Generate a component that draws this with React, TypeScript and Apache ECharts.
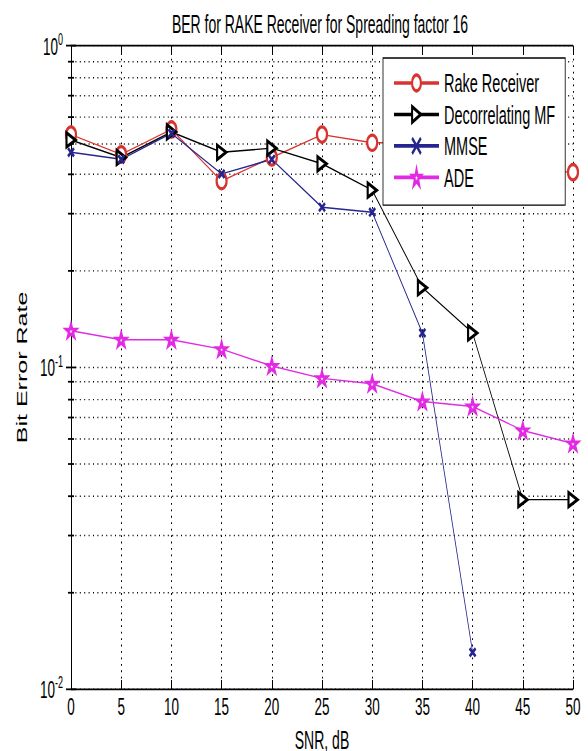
import React, { useEffect, useRef } from 'react';
import * as echarts from 'echarts';

const snr = [0, 5, 10, 15, 20, 25, 30, 35, 40, 45, 50];
const rakeBer = [0.53, 0.46, 0.55, 0.38, 0.45, 0.53, 0.5, 0.5, 0.45, 0.41, 0.405];
const decorrBer = [0.51, 0.45, 0.54, 0.467, 0.481, 0.43, 0.356, 0.177, 0.128, 0.0388, 0.0388];
const mmseBer = [0.467, 0.444, 0.535, 0.4, 0.444, 0.315, 0.304, 0.128, 0.013, null, null];
const adeBer = [0.13, 0.122, 0.122, 0.114, 0.101, 0.0925, 0.089, 0.0784, 0.0756, 0.0637, 0.058];

// The reference figure is stretched vertically; the chart is drawn at this
// height and scaled up to the 751px page height.
const PAGE_W = 588;
const PAGE_H = 751;
const CHART_H = 420;
const STRETCH = PAGE_H / CHART_H;

const FONT = "'Liberation Sans', Arial, Helvetica, sans-serif";
const STAR = 'emptyPath://M50,0 L61.8,36.3 L100,36.3 L69.1,58.8 L80.9,95.1 L50,72.6 L19.1,95.1 L30.9,58.8 L0,36.3 L38.2,36.3 Z';
const XMARK = 'emptyPath://M0,0 L10,10 M10,0 L0,10';

const pair = (ys: (number | null)[]) => snr.map((x, i) => [x, ys[i]]).filter((p) => p[1] !== null);

export default function App() {
  const ref = useRef<HTMLDivElement>(null);
  useEffect(() => {
    const chart = echarts.init(ref.current!, undefined, { renderer: 'svg' });
    const hDots = { color: '#000', width: 0.8, type: [1, 3.4] as any };
    const vDots = { color: '#000', width: 1, type: [1, 2.6] as any };
    const axisLine = { lineStyle: { color: '#000', width: 1 } };
    const tick = { inside: true, length: 5, lineStyle: { color: '#000', width: 1 } };
    const minorTick = { show: true, splitNumber: 9, length: 3, lineStyle: { color: '#000', width: 1 } };
    const LW = 0.8;
    chart.setOption({
      animation: false,
      backgroundColor: '#fff',
      title: {
        text: 'BER for RAKE Receiver for Spreading factor 16',
        left: 315,
        textAlign: 'center',
        top: 1.5,
        textStyle: { fontFamily: FONT, fontSize: 14, fontWeight: 'normal', color: '#000' },
      },
      grid: { left: 71, right: 15, top: 25.7, bottom: 34.7, show: false, containLabel: false, outerBoundsMode: 'none' },
      legend: {
        orient: 'vertical',
        left: 383,
        top: 32.4,
        padding: [6.5, 10, 8, 10],
        itemGap: 2.6,
        itemWidth: 45,
        itemHeight: 11,
        backgroundColor: '#fff',
        borderColor: '#000',
        borderWidth: 0.8,
        borderRadius: 0,
        textStyle: { fontFamily: FONT, fontSize: 14.5, lineHeight: 14, color: '#000' },
        data: ['Rake Receiver', 'Decorrelating MF', 'MMSE', 'ADE'],
      },
      xAxis: [
        {
          type: 'value',
          min: 0,
          max: 50,
          interval: 5,
          position: 'bottom',
          name: 'SNR, dB',
          nameLocation: 'middle',
          nameGap: 14.5,
          nameTextStyle: { fontFamily: FONT, fontSize: 14, lineHeight: 14, color: '#000' },
          axisLine,
          axisTick: tick,
          axisLabel: { fontFamily: FONT, fontSize: 13.5, color: '#000', margin: 3 },
          splitLine: { show: true, lineStyle: vDots },
        },
        {
          type: 'value',
          min: 0,
          max: 50,
          interval: 5,
          position: 'top',
          axisLine,
          axisTick: tick,
          axisLabel: { show: false },
          splitLine: { show: false },
        },
      ],
      yAxis: [
        {
          type: 'log',
          logBase: 10,
          min: 0.01,
          max: 1,
          position: 'left',
          name: 'Bit Error Rate',
          nameLocation: 'middle',
          nameGap: 42,
          nameTextStyle: { fontFamily: FONT, fontSize: 14, color: '#000' },
          axisLine,
          axisTick: tick,
          minorTick,
          minorSplitLine: { show: true, lineStyle: hDots },
          axisLabel: {
            margin: 8,
            formatter: (v: number) => `{b|10}{s|${Math.round(Math.log10(v))}}`,
            rich: {
              b: { fontFamily: FONT, fontSize: 13.5, color: '#000' },
              s: { fontFamily: FONT, fontSize: 9, color: '#000', padding: [0, 0, 7, 0] },
            },
          },
          splitLine: { show: true, lineStyle: hDots },
        },
        {
          type: 'log',
          logBase: 10,
          min: 0.01,
          max: 1,
          position: 'right',
          axisLine,
          axisTick: tick,
          minorTick,
          axisLabel: { show: false },
          splitLine: { show: false },
        },
      ],
      series: [
        {
          name: 'Rake Receiver',
          type: 'line',
          data: pair(rakeBer),
          color: '#d8342f',
          lineStyle: { width: LW, color: '#d8342f' },
          symbol: 'emptyCircle',
          symbolSize: [10, 8.5],
          itemStyle: { borderWidth: LW },
          z: 3,
        },
        {
          name: 'Decorrelating MF',
          type: 'line',
          data: pair(decorrBer),
          color: '#000',
          lineStyle: { width: LW, color: '#000' },
          symbol: 'emptyTriangle',
          symbolRotate: -90,
          symbolSize: [8, 9],
          itemStyle: { borderWidth: LW },
          z: 3,
        },
        {
          name: 'MMSE',
          type: 'line',
          data: pair(mmseBer),
          color: '#25258f',
          lineStyle: { width: LW, color: '#25258f' },
          symbol: XMARK,
          symbolSize: [6, 4.5],
          itemStyle: { borderWidth: LW },
          z: 3,
        },
        {
          name: 'ADE',
          type: 'line',
          data: pair(adeBer),
          color: '#e22ae2',
          lineStyle: { width: LW, color: '#e22ae2' },
          symbol: STAR,
          symbolSize: [10, 7],
          itemStyle: { borderWidth: LW },
          z: 3,
        },
      ],
    });
    return () => chart.dispose();
  }, []);
  return (
    <div style={{ position: 'fixed', left: 0, top: 0, width: PAGE_W, height: PAGE_H, overflow: 'hidden', background: '#fff' }}>
      <div
        ref={ref}
        style={{ width: PAGE_W, height: CHART_H, transform: `scaleY(${STRETCH})`, transformOrigin: '0 0' }}
      />
    </div>
  );
}
